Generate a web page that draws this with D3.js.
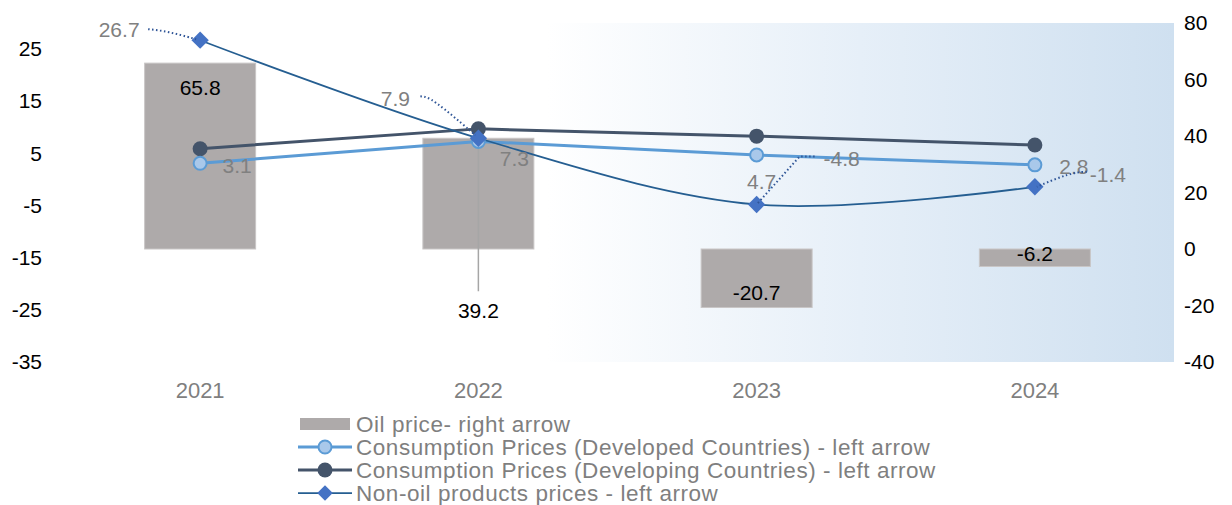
<!DOCTYPE html>
<html>
<head>
<meta charset="utf-8">
<script src="https://cdn.jsdelivr.net/npm/d3@7"></script>
<style>
  html, body { margin: 0; padding: 0; background: #fff; }
  svg { display: block; font-family: "Liberation Sans", Arial, sans-serif; }
</style>
</head>
<body>
<svg id="chart" width="1232" height="505"></svg>
<script>
// Years on the category axis
const years = ["2021", "2022", "2023", "2024"];
// Oil price change (right axis)
const oilPrice = [65.8, 39.2, -20.7, -6.2];
// Consumer prices in developed economies (left axis)
const cpiDeveloped = [3.1, 7.3, 4.7, 2.8];
// Consumer prices in developing economies (left axis)
const cpiDeveloping = [5.9, 9.7, 8.3, 6.6];
// Non-oil commodity prices (left axis)
const nonOil = [26.7, 7.9, -4.8, -1.4];
// Axis ticks
const leftTicks = [-35, -25, -15, -5, 5, 15, 25];
const rightTicks = [-40, -20, 0, 20, 40, 60, 80];
const legendLabels = [
  "Oil price- right arrow",
  "Consumption Prices (Developed Countries) - left arrow",
  "Consumption Prices (Developing Countries) - left arrow",
  "Non-oil products prices - left arrow"
];

const FONT = "Liberation Sans, Arial, sans-serif";
const svg = d3.select("#chart");
const plot = { left: 61, right: 1174, top: 23, bottom: 362 };

const x = d3.scaleBand().domain(years).range([plot.left, plot.right]);
const cx = d => x(d) + x.bandwidth() / 2;
const yL = d3.scaleLinear().domain([-35, 30]).range([plot.bottom, plot.top]);
const yR = d3.scaleLinear().domain([-40, 80]).range([plot.bottom, plot.top]);
const plain = d => String(d);

// Shaded forecast band
const defs = svg.append("defs");
const grad = defs.append("linearGradient").attr("id", "fc").attr("x1", 0).attr("x2", 1).attr("y1", 0).attr("y2", 0);
grad.append("stop").attr("offset", 0).attr("stop-color", "#ffffff");
grad.append("stop").attr("offset", 0.5).attr("stop-color", "#e6eff8");
grad.append("stop").attr("offset", 1).attr("stop-color", "#cfe0f0");
svg.append("rect")
  .attr("x", 547).attr("y", plot.top)
  .attr("width", plot.right - 547).attr("height", plot.bottom - plot.top)
  .attr("fill", "url(#fc)");

function styleAxis(g, size, color) {
  g.select(".domain").remove();
  g.attr("font-family", FONT);
  g.selectAll("text").attr("fill", color).attr("font-size", size).attr("font-family", FONT);
}

// Left axis
svg.append("g").attr("transform", "translate(42,0)")
  .call(d3.axisLeft(yL).tickValues(leftTicks).tickFormat(plain).tickSize(0).tickPadding(0))
  .call(g => styleAxis(g, 21, "#000"));

// Right axis
svg.append("g").attr("transform", "translate(1184,0)")
  .call(d3.axisRight(yR).tickValues(rightTicks).tickFormat(plain).tickSize(0).tickPadding(0))
  .call(g => styleAxis(g, 21, "#000"));

// Category axis
svg.append("g").attr("transform", `translate(0,${plot.bottom + 20})`)
  .call(d3.axisBottom(x).tickSize(0).tickPadding(0))
  .call(g => styleAxis(g, 22, "#7f7f7f"));

// Oil price bars
const barW = 111;
svg.append("g").selectAll("rect").data(oilPrice).join("rect")
  .attr("x", (d, i) => cx(years[i]) - barW / 2)
  .attr("y", d => Math.min(yR(d), yR(0)))
  .attr("width", barW)
  .attr("height", d => Math.abs(yR(d) - yR(0)))
  .attr("fill", "#aeaaaa")
  .attr("stroke", "#c9c6c6").attr("stroke-width", 1);

// Leader from the 2022 bar to its label
svg.append("line")
  .attr("x1", cx(years[1])).attr("x2", cx(years[1]))
  .attr("y1", yR(oilPrice[1]) + 3).attr("y2", yR(oilPrice[1]) + 153)
  .attr("stroke", "#a6a6a6").attr("stroke-width", 1.5);

// Bar value labels (vertical centre offset from the bar end)
const barLabelDy = [24, 172, -15, -13];
svg.append("g").selectAll("text").data(oilPrice).join("text")
  .attr("x", (d, i) => cx(years[i]))
  .attr("y", (d, i) => yR(d) + barLabelDy[i])
  .attr("dy", "0.36em")
  .attr("text-anchor", "middle")
  .attr("font-size", 21).attr("fill", "#000")
  .text(d => d.toFixed(1));

// Series lines
function drawLine(values, color, width, curve) {
  const line = d3.line().x((d, i) => cx(years[i])).y(d => yL(d)).curve(curve);
  svg.append("path").datum(values).attr("d", line)
    .attr("fill", "none").attr("stroke", color).attr("stroke-width", width)
    .attr("stroke-linejoin", "round").attr("stroke-linecap", "round");
}
drawLine(cpiDeveloping, "#44546a", 3, d3.curveLinear);
drawLine(cpiDeveloped, "#5b9bd5", 3, d3.curveLinear);
drawLine(nonOil, "#255e91", 1.75, d3.curveCatmullRom.alpha(0.5));

// Markers
svg.append("g").selectAll("circle").data(cpiDeveloping).join("circle")
  .attr("cx", (d, i) => cx(years[i])).attr("cy", d => yL(d)).attr("r", 7.5)
  .attr("fill", "#44546a");
svg.append("g").selectAll("circle").data(cpiDeveloped).join("circle")
  .attr("cx", (d, i) => cx(years[i])).attr("cy", d => yL(d)).attr("r", 6.5)
  .attr("fill", "#a9c8ea").attr("stroke", "#5b9bd5").attr("stroke-width", 2);
svg.append("g").selectAll("path").data(nonOil).join("path")
  .attr("transform", (d, i) => `translate(${cx(years[i])},${yL(d)}) rotate(45)`)
  .attr("d", d3.symbol().type(d3.symbolSquare).size(150))
  .attr("fill", "#4472c4");

// Developed series value labels (centre offsets from the point)
const devLabelPos = [[37, 2], [36, 17], [5, 26], [39, 2]];
svg.append("g").selectAll("text").data(cpiDeveloped).join("text")
  .attr("x", (d, i) => cx(years[i]) + devLabelPos[i][0])
  .attr("y", (d, i) => yL(d) + devLabelPos[i][1])
  .attr("dy", "0.36em")
  .attr("text-anchor", "middle")
  .attr("font-size", 21).attr("fill", "#808080")
  .text(d => d.toFixed(1));

// Non-oil value labels with dotted leaders
const nonOilLabelPos = [
  { lx: -81, ly: -11, curve: d3.curveBasis, path: [[-52, -11], [-33, -9], [-4, -1]] },
  { lx: -83, ly: -40, curve: d3.curveBasis, path: [[-58, -42], [-47, -41], [-3, -3]] },
  { lx: 85, ly: -46, curve: d3.curveLinear, path: [[58, -48], [43, -48], [0, 0]] },
  { lx: 73, ly: -12, curve: d3.curveBasis, path: [[52, -15], [35, -14], [2, 0]] }
];
nonOil.forEach((v, i) => {
  const px = cx(years[i]), py = yL(v), p = nonOilLabelPos[i];
  svg.append("path")
    .attr("d", d3.line().curve(p.curve)(p.path.map(([a, b]) => [px + a, py + b])))
    .attr("fill", "none").attr("stroke", "#2f5597").attr("stroke-width", 2)
    .attr("stroke-dasharray", "1.5 2.5");
  svg.append("text")
    .attr("x", px + p.lx).attr("y", py + p.ly)
    .attr("dy", "0.36em")
    .attr("text-anchor", "middle")
    .attr("font-size", 21).attr("fill", "#808080")
    .text(v.toFixed(1));
});

// Legend
const legend = svg.append("g").attr("transform", "translate(298,424)");
const rowH = 23;
legendLabels.forEach((label, i) => {
  const g = legend.append("g").attr("transform", `translate(0,${i * rowH})`);
  if (i === 0) {
    g.append("rect").attr("x", 2).attr("y", -6).attr("width", 50).attr("height", 12).attr("fill", "#aeaaaa");
  } else if (i === 1) {
    g.append("line").attr("x1", 0).attr("x2", 54).attr("stroke", "#5b9bd5").attr("stroke-width", 3);
    g.append("circle").attr("cx", 27).attr("r", 6.5).attr("fill", "#a9c8ea").attr("stroke", "#5b9bd5").attr("stroke-width", 2);
  } else if (i === 2) {
    g.append("line").attr("x1", 0).attr("x2", 54).attr("stroke", "#44546a").attr("stroke-width", 3);
    g.append("circle").attr("cx", 27).attr("r", 7.5).attr("fill", "#44546a");
  } else {
    g.append("line").attr("x1", 0).attr("x2", 54).attr("stroke", "#255e91").attr("stroke-width", 1.75);
    g.append("path").attr("transform", "translate(27,0) rotate(45)")
      .attr("d", d3.symbol().type(d3.symbolSquare).size(120)).attr("fill", "#4472c4");
  }
  g.append("text").attr("x", 58).attr("y", 0).attr("dy", "0.36em")
    .attr("font-size", 22.5).attr("letter-spacing", 0.55)
    .attr("fill", "#7f7f7f").text(label);
});
</script>
</body>
</html>
